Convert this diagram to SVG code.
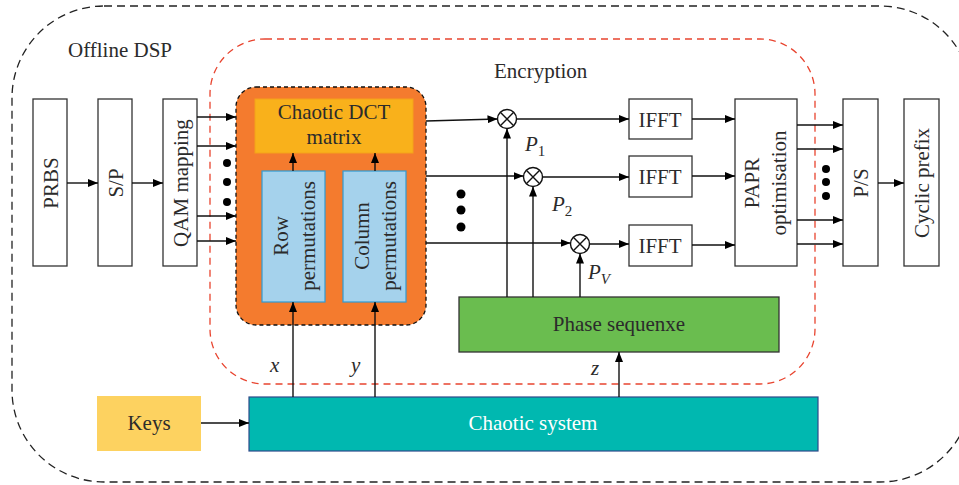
<svg xmlns="http://www.w3.org/2000/svg" width="959" height="485" viewBox="0 0 959 485">
<style>
text{font-family:"Liberation Serif","Times New Roman",serif;fill:#2b2b2b;font-size:21px}
.c{text-anchor:middle}
.it{font-style:italic}
.box{fill:#fff;stroke:#333;stroke-width:1.3}
.ln{fill:none;stroke:#111;stroke-width:1.4}
.ar{fill:none;stroke:#111;stroke-width:1.4;marker-end:url(#ah)}
.dot{fill:#000}
</style>
<defs>
<marker id="ah" viewBox="0 0 10 8" refX="10" refY="4" markerWidth="10" markerHeight="8" markerUnits="userSpaceOnUse" orient="auto">
<path d="M0,0 L10,4 L0,8 Z" fill="#000"/>
</marker>
</defs>
<rect id="offline" x="12" y="6" width="960" height="476" rx="92" ry="92" fill="none" stroke="#222" stroke-width="1.3" stroke-dasharray="8,5"/>
<text x="68" y="57">Offline DSP</text>
<rect id="encryption" x="210" y="39" width="605" height="345" rx="55" ry="55" fill="none" stroke="#E8442F" stroke-width="1.3" stroke-dasharray="7,5"/>
<text x="494" y="78">Encryption</text>

<g id="prbs"><rect class="box" x="33" y="99" width="34" height="167"/><text class="c" transform="translate(50,183) rotate(-90)" y="7.5">PRBS</text></g>
<g id="sp"><rect class="box" x="98" y="99" width="34" height="167"/><text class="c" transform="translate(115,183) rotate(-90)" y="7.5">S/P</text></g>
<g id="qam"><rect class="box" x="163" y="99" width="34" height="167"/><text class="c" transform="translate(180,183) rotate(-90)" y="7.5">QAM mapping</text></g>

<g id="orange">
<rect x="236" y="87" width="190" height="238" rx="20" ry="20" fill="#F47B2E" stroke="#111" stroke-width="1.3" stroke-dasharray="4,3"/>
</g>
<g id="dct"><rect x="255" y="99" width="158" height="54" fill="#F9B11B" stroke="#F4A21A" stroke-width="1"/>
<text class="c" x="334" y="119">Chaotic DCT</text><text class="c" x="334" y="144">matrix</text></g>
<g id="rowperm"><rect x="262" y="171" width="63" height="131" fill="#A5D2EC" stroke="#2F9AD3" stroke-width="1.2"/>
<text class="c" transform="translate(280,236) rotate(-90)" y="7.5">Row</text><text class="c" transform="translate(307,236) rotate(-90)" y="7.5">permutations</text></g>
<g id="colperm"><rect x="343" y="171" width="63" height="131" fill="#A5D2EC" stroke="#2F9AD3" stroke-width="1.2"/>
<text class="c" transform="translate(361,236) rotate(-90)" y="7.5">Column</text><text class="c" transform="translate(388,236) rotate(-90)" y="7.5">permutations</text></g>

<g id="ifft1"><rect class="box" x="629" y="99" width="63" height="40"/><text class="c" x="660" y="126.5">IFFT</text></g>
<g id="ifft2"><rect class="box" x="629" y="156" width="63" height="41"/><text class="c" x="660" y="184">IFFT</text></g>
<g id="ifft3"><rect class="box" x="629" y="225" width="63" height="41"/><text class="c" x="660" y="253">IFFT</text></g>
<g id="papr"><rect class="box" x="735" y="99" width="62" height="167"/>
<text class="c" transform="translate(751,183) rotate(-90)" y="7.5">PAPR</text><text class="c" transform="translate(778,183) rotate(-90)" y="7.5">optimisation</text></g>
<g id="ps"><rect class="box" x="843" y="99" width="35" height="167"/><text class="c" transform="translate(860,183) rotate(-90)" y="7.5">P/S</text></g>
<g id="cp"><rect class="box" x="904" y="99" width="35" height="167"/><text class="c" transform="translate(921,183) rotate(-90)" y="7.5">Cyclic prefix</text></g>

<g id="phase"><rect x="459" y="297" width="320" height="55" fill="#6ABD4F" stroke="#333" stroke-width="1.3"/><text class="c" x="619" y="331">Phase sequenxe</text></g>
<g id="keys"><rect x="97" y="396" width="104" height="55" fill="#FDD260"/><text class="c" x="149" y="430">Keys</text></g>
<g id="chaotic"><rect x="249" y="397" width="569" height="54" fill="#00B8B0" stroke="#2E4A8A" stroke-width="1.2"/><text class="c" x="533" y="430" style="fill:#fff">Chaotic system</text></g>

<g id="mult1"><circle cx="507" cy="119" r="9.5" fill="#fff" stroke="#111" stroke-width="1.4"/><path class="ln" d="M500.3,112.3 L513.7,125.7 M513.7,112.3 L500.3,125.7"/></g>
<g id="mult2"><circle cx="533" cy="177" r="9.5" fill="#fff" stroke="#111" stroke-width="1.4"/><path class="ln" d="M526.3,170.3 L539.7,183.7 M539.7,170.3 L526.3,183.7"/></g>
<g id="mult3"><circle cx="580" cy="244" r="9.5" fill="#fff" stroke="#111" stroke-width="1.4"/><path class="ln" d="M573.3,237.3 L586.7,250.7 M586.7,237.3 L573.3,250.7"/></g>

<g id="connectors">
<path class="ar" d="M67,183 H98"/>
<path class="ar" d="M132,183 H163"/>
<path class="ar" d="M197,117 H236"/>
<path class="ar" d="M197,146 H236"/>
<path class="ar" d="M197,216 H236"/>
<path class="ar" d="M197,241 H236"/>
<path class="ar" d="M293,171 V153"/>
<path class="ar" d="M375,171 V153"/>
<path class="ar" d="M426,121 L497.5,119"/>
<path class="ar" d="M426,176 H523.5"/>
<path class="ar" d="M426,243 H570.5"/>
<path class="ar" d="M507,297 V128.5"/>
<path class="ar" d="M533,297 V186.5"/>
<path class="ar" d="M580,297 V253.5"/>
<path class="ar" d="M516.5,119 H629"/>
<path class="ar" d="M542.5,177 H629"/>
<path class="ar" d="M589.5,244 H629"/>
<path class="ar" d="M692,119 H735"/>
<path class="ar" d="M692,176 H735"/>
<path class="ar" d="M692,245 H735"/>
<path class="ar" d="M797,125 H843"/>
<path class="ar" d="M797,149 H843"/>
<path class="ar" d="M797,220 H843"/>
<path class="ar" d="M797,244 H843"/>
<path class="ar" d="M878,183 H904"/>
<path class="ar" d="M201,423 H249"/>
<path class="ar" d="M293,397 V302"/>
<path class="ar" d="M375,397 V302"/>
<path class="ar" d="M619,397 V352"/>
<circle class="dot" cx="227" cy="163" r="4"/><circle class="dot" cx="227" cy="182" r="4"/><circle class="dot" cx="227" cy="202" r="4"/>
<circle class="dot" cx="461" cy="194" r="4.5"/><circle class="dot" cx="461" cy="210" r="4.5"/><circle class="dot" cx="461" cy="227" r="4.5"/>
<circle class="dot" cx="826" cy="169" r="4"/><circle class="dot" cx="826" cy="182" r="4"/><circle class="dot" cx="826" cy="196" r="4"/>
</g>
<text class="it" x="525" y="151">P<tspan font-style="normal" font-size="15" dy="5">1</tspan></text>
<text class="it" x="552" y="211">P<tspan font-style="normal" font-size="15" dy="5">2</tspan></text>
<text class="it" x="588" y="279">P<tspan font-size="15" dy="5">V</tspan></text>
<text class="it" x="270" y="372">x</text>
<text class="it" x="351" y="372">y</text>
<text class="it" x="591" y="375">z</text>
</svg>
